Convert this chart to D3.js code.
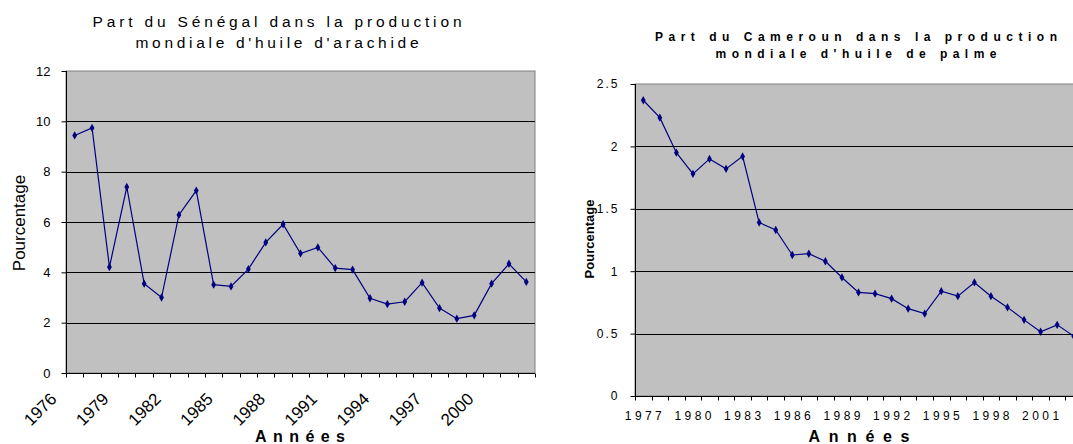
<!DOCTYPE html>
<meta charset="utf-8">
<title>Part du Sénégal et du Cameroun</title>
<style>
body { margin: 0; background: #fff; }
svg { display: block; font-family: "Liberation Sans", Arial, sans-serif; }
</style>
<body>
<script src="https://d3js.org/d3.v7.min.js"></script>
<script>

// Sénégal, huile d'arachide
var senYears = [1976, 1977, 1978, 1979, 1980, 1981, 1982, 1983, 1984, 1985, 1986, 1987, 1988, 1989,
                1990, 1991, 1992, 1993, 1994, 1995, 1996, 1997, 1998, 1999, 2000, 2001, 2002];
var senValues = [9.44, 9.74, 4.21, 7.39, 3.55, 3.00, 6.28, 7.25, 3.51, 3.44, 4.13, 5.19, 5.91, 4.75,
                 4.99, 4.17, 4.11, 2.97, 2.74, 2.83, 3.59, 2.58, 2.16, 2.29, 3.55, 4.34, 3.62];
var senYTicks = [0, 2, 4, 6, 8, 10, 12];
var senXLabels = [1976, 1979, 1982, 1985, 1988, 1991, 1994, 1997, 2000];

// Cameroun, huile de palme
var camYears = [1977, 1978, 1979, 1980, 1981, 1982, 1983, 1984, 1985, 1986, 1987, 1988, 1989, 1990,
                1991, 1992, 1993, 1994, 1995, 1996, 1997, 1998, 1999, 2000, 2001, 2002, 2003];
var camValues = [2.37, 2.23, 1.95, 1.78, 1.90, 1.82, 1.92, 1.39, 1.33, 1.13, 1.14, 1.08, 0.95, 0.83,
                 0.82, 0.78, 0.70, 0.66, 0.84, 0.80, 0.91, 0.80, 0.71, 0.61, 0.515, 0.57, 0.48];
var camYTicks = [0, 0.5, 1, 1.5, 2, 2.5];
var camXLabels = [1977, 1980, 1983, 1986, 1989, 1992, 1995, 1998, 2001];

var svg = d3.select("body").append("svg")
    .attr("width", 1073)
    .attr("height", 444);

var lineColor = "#000080";

function drawChart(o) {
  var g = svg.append("g");

  var x = d3.scaleBand().domain(o.years).range([o.left, o.right]).padding(0);
  var y = d3.scaleLinear().domain([0, o.ymax]).range([o.bottom, o.top]);
  var cx = function(d) { return x(d) + x.bandwidth() / 2; };

  // plot area
  g.append("rect")
    .attr("x", o.left).attr("y", o.top)
    .attr("width", o.right - o.left).attr("height", o.bottom - o.top)
    .attr("fill", "#c0c0c0")
    .attr("stroke", "#808080")
    .attr("stroke-width", 1);

  // gridlines
  g.selectAll(".grid").data(o.yTicks.filter(function(t) { return t > 0 && t < o.ymax; }))
    .enter().append("line")
    .attr("x1", o.left).attr("x2", o.right)
    .attr("y1", function(d) { return Math.round(y(d)) + 0.5; })
    .attr("y2", function(d) { return Math.round(y(d)) + 0.5; })
    .attr("stroke", "#000").attr("stroke-width", 1);

  // y axis
  var yAxis = d3.axisLeft(y).tickValues(o.yTicks).tickSize(5).tickPadding(o.yPad)
    .tickFormat(function(d) { return d; });
  var ya = g.append("g").attr("transform", "translate(" + (Math.round(o.left) + 0.5) + ",0)").call(yAxis);
  ya.select(".domain").attr("d", "M0," + o.top + "V" + o.bottom).attr("stroke", "#000");
  ya.selectAll(".tick line").attr("stroke", "#000");
  ya.selectAll(".tick text")
    .attr("fill", "#000")
    .style("font-size", o.yFont + "px")
    .style("letter-spacing", o.yLs + "px")
    .attr("font-family", null);

  // x axis: ticks on category boundaries
  var bounds = o.years.map(function(d) { return x(d); }).concat([o.right]);
  var xb = Math.round(o.bottom) + 0.5;
  g.append("line").attr("x1", o.left).attr("x2", o.right).attr("y1", xb).attr("y2", xb)
    .attr("stroke", "#000");
  g.selectAll(".xtick").data(bounds).enter().append("line")
    .attr("x1", function(d) { return Math.round(d) + 0.5; })
    .attr("x2", function(d) { return Math.round(d) + 0.5; })
    .attr("y1", xb).attr("y2", xb + 4)
    .attr("stroke", "#000");

  // x labels
  var xl = g.selectAll(".xlab").data(o.xLabels).enter().append("text")
    .text(function(d) { return d; })
    .attr("fill", "#000");
  if (o.rotate) {
    xl.attr("text-anchor", "end")
      .style("font-size", o.xFont + "px")
      .attr("transform", function(d) {
        return "translate(" + (cx(d) + o.xDx) + "," + o.xY + ") rotate(-45)";
      });
  } else {
    xl.attr("text-anchor", "middle")
      .style("font-size", o.xFont + "px")
      .attr("x", function(d) { return cx(d); })
      .attr("y", o.xY)
      .attr("textLength", o.xLen)
      .attr("lengthAdjust", "spacing");
  }

  // series
  var line = d3.line()
    .x(function(d, i) { return cx(o.years[i]); })
    .y(function(d) { return y(d); });
  g.append("path")
    .datum(o.values)
    .attr("d", line)
    .attr("fill", "none")
    .attr("stroke", lineColor)
    .attr("stroke-width", 1.2);
  g.selectAll(".pt").data(o.values).enter().append("path")
    .attr("d", d3.symbol(d3.symbolDiamond).size(20))
    .attr("transform", function(d, i) { return "translate(" + cx(o.years[i]) + "," + y(d) + ")"; })
    .attr("fill", lineColor);

  // titles
  o.title.forEach(function(t, i) {
    g.append("text")
      .attr("x", o.titleX).attr("y", o.titleY[i])
      .attr("text-anchor", "middle")
      .attr("textLength", o.titleLen[i])
      .attr("lengthAdjust", "spacing")
      .style("font-size", o.titleFont + "px")
      .style("font-weight", o.titleWeight)
      .text(t);
  });

  g.append("text")
    .attr("transform", "translate(" + o.ylabX + "," + o.ylabY + ") rotate(-90)")
    .attr("text-anchor", "middle")
    .style("font-size", o.ylabFont + "px")
    .style("font-weight", o.ylabWeight)
    .text("Pourcentage");

  g.append("text")
    .attr("x", o.xlabX).attr("y", 442)
    .attr("text-anchor", "middle")
    .attr("textLength", o.xlabLen)
    .attr("lengthAdjust", "spacing")
    .style("font-size", "16px")
    .style("font-weight", "bold")
    .text("Années");
}

drawChart({
  years: senYears, values: senValues, yTicks: senYTicks, xLabels: senXLabels,
  left: 66, right: 535, top: 71, bottom: 373, ymax: 12,
  yFont: 13, yLs: 0, yPad: 11,
  rotate: true, xFont: 17, xDx: -17, xY: 400,
  title: ["Part du Sénégal dans la production", "mondiale d'huile d'arachide"],
  titleX: 277, titleY: [27, 48], titleLen: [369, 283], titleFont: 15.5, titleWeight: "normal",
  ylabX: 25, ylabY: 223, ylabFont: 17, ylabWeight: "normal",
  xlabX: 300, xlabLen: 90
});

drawChart({
  years: camYears, values: camValues, yTicks: camYTicks, xLabels: camXLabels,
  left: 635, right: 1082, top: 84, bottom: 396, ymax: 2.5,
  yFont: 12, yLs: 2, yPad: 11,
  rotate: false, xFont: 12, xY: 420, xLen: 37,
  title: ["Part du Cameroun dans la production", "mondiale d'huile de palme"],
  titleX: 856, titleY: [41, 58], titleLen: [402, 281], titleFont: 12, titleWeight: "bold",
  ylabX: 594, ylabY: 239, ylabFont: 13, ylabWeight: "bold",
  xlabX: 859, xlabLen: 101
});

</script>
</body>
